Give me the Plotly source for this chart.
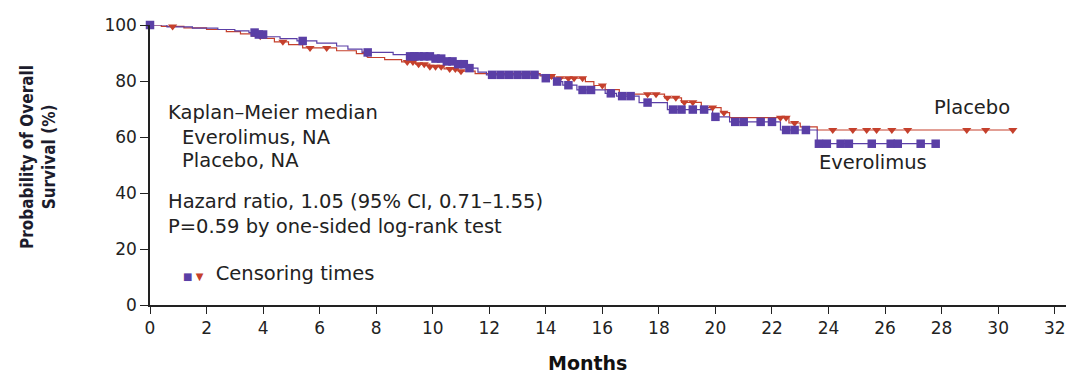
import plotly.graph_objects as go

# Kaplan-Meier step curves (time in months, survival in %)
ev_t = [0, 0.6, 1.5, 2.4, 3.0, 3.5, 3.8, 4.1, 4.6, 5.2, 5.9, 6.6, 7.0, 7.5, 8.6, 9.1, 10.0, 10.4, 10.8, 11.2, 11.6, 11.9,
        13.9, 14.3, 14.6, 15.1, 16.1, 16.5, 17.3, 18.3, 19.9, 20.5, 22.3, 23.6, 27.8]
ev_s = [100, 99.3, 98.9, 98.4, 97.9, 97.3, 96.6, 95.8, 95.1, 94.3, 93.5, 92.5, 91.4, 90.2, 89.4, 88.8, 88.0, 87.0, 86.0, 84.6, 83.2, 82.2,
        81.0, 79.8, 78.5, 76.8, 75.6, 74.6, 72.3, 69.8, 67.2, 65.4, 62.5, 57.6, 57.6]

pl_t = [0, 0.4, 1.2, 2.0, 2.7, 3.2, 3.6, 4.0, 4.4, 4.9, 5.4, 6.6, 7.3, 7.7, 8.3, 8.9, 9.4, 9.9, 10.4, 10.9, 11.5,
        13.8, 14.3, 15.4, 15.7, 16.1, 16.6, 18.2, 18.8, 19.5, 20.2, 20.5, 22.6, 23.0, 23.6, 30.5]
pl_s = [100, 99.5, 99.0, 98.4, 97.6, 96.8, 96.0, 95.2, 94.0, 93.0, 91.8, 90.8, 89.8, 88.4, 87.6, 86.8, 86.0, 85.1, 84.3, 83.5, 82.6,
        81.8, 81.0, 79.8, 78.4, 76.9, 75.3, 74.0, 72.4, 70.5, 68.7, 66.9, 65.0, 63.6, 62.5, 62.5]

# Censoring marks
ev_cens_t = [0.0, 3.7, 3.85, 4.0, 5.4, 7.7, 9.2, 9.35, 9.5, 9.7, 9.9, 10.1, 10.3, 10.5, 10.7, 10.9, 11.1, 11.3,
             12.1, 12.4, 12.7, 13.0, 13.3, 13.6, 14.0, 14.4, 14.8, 15.3, 15.6, 16.3, 16.7, 17.0, 17.6, 18.5, 18.8,
             19.2, 19.6, 20.0, 20.7, 21.0, 21.6, 22.0, 22.5, 22.8, 23.2,
             23.66, 23.94, 24.43, 24.72, 25.53, 26.2, 26.45, 27.26, 27.79]
ev_cens_s = [100, 97.3, 96.6, 96.6, 94.3, 90.2, 88.8, 88.8, 88.8, 88.8, 88.8, 88.0, 88.0, 87.0, 87.0, 86.0, 86.0, 84.6,
             82.2, 82.2, 82.2, 82.2, 82.2, 82.2, 81.0, 79.8, 78.5, 76.8, 76.8, 75.6, 74.6, 74.6, 72.3, 69.8, 69.8,
             69.8, 69.8, 67.2, 65.4, 65.4, 65.4, 65.4, 62.5, 62.5, 62.5,
             57.6, 57.6, 57.6, 57.6, 57.6, 57.6, 57.6, 57.6, 57.6]

pl_cens_t = [0.8, 3.9, 4.7, 5.66, 6.25, 7.67, 9.1, 9.3, 9.5, 9.7, 9.9, 10.1, 10.3, 10.6, 10.8, 11.0,
             13.6, 14.2, 14.5, 14.8, 15.0, 15.3, 16.0, 17.6, 17.9, 18.3, 18.6, 18.9, 19.2, 19.9, 20.3,
             22.3, 22.5, 22.8,
             24.15, 24.86, 25.35, 25.7, 26.24, 26.8, 28.89, 29.56, 30.52]
pl_cens_s = [99.5, 96.0, 94.0, 91.8, 91.8, 89.8, 86.8, 86.8, 86.0, 86.0, 85.1, 85.1, 85.1, 84.3, 84.3, 83.5,
             82.6, 81.8, 81.0, 81.0, 81.0, 81.0, 78.4, 75.3, 75.3, 74.0, 74.0, 72.4, 72.4, 70.5, 68.7,
             66.9, 66.9, 65.0,
             62.5, 62.5, 62.5, 62.5, 62.5, 62.5, 62.5, 62.5, 62.5]

x_ticks = list(range(0, 33, 2))
y_ticks = [0, 20, 40, 60, 80, 100]

PURPLE = "#5a3fa6"
RED = "#c5402c"
FONT = "DejaVu Sans"

fig = go.Figure()
fig.add_trace(go.Scatter(x=pl_t, y=pl_s, mode="lines", line=dict(color=RED, width=1.2, shape="hv"),
                         hoverinfo="skip", cliponaxis=False))
fig.add_trace(go.Scatter(x=ev_t, y=ev_s, mode="lines", line=dict(color=PURPLE, width=1.2, shape="hv"),
                         hoverinfo="skip", cliponaxis=False))
fig.add_trace(go.Scatter(x=pl_cens_t, y=pl_cens_s, mode="markers",
                         marker=dict(symbol="triangle-down", size=8, color=RED, line=dict(width=0)),
                         cliponaxis=False))
fig.add_trace(go.Scatter(x=ev_cens_t, y=ev_cens_s, mode="markers",
                         marker=dict(symbol="square", size=8.5, color=PURPLE, line=dict(width=0)),
                         cliponaxis=False))

txt = dict(family=FONT, size=19.5, color="#222222")
ann = [
    dict(x=0.58, y=68.6, text="Kaplan–Meier median"),
    dict(x=1.05, y=60.0, text="Everolimus, NA"),
    dict(x=1.05, y=51.6, text="Placebo, NA"),
    dict(x=0.58, y=36.8, text="Hazard ratio, 1.05 (95% CI, 0.71–1.55)"),
    dict(x=0.58, y=28.2, text="P=0.59 by one-sided log-rank test"),
    dict(x=1.1, y=11.1, text=f"<span style='color:{PURPLE};font-size:10px'>■</span>"
                             f"<span style='color:{RED};font-size:10px'> ▼</span>  Censoring times"),
    dict(x=27.65, y=70.7, text="Placebo"),
    dict(x=23.6, y=51.0, text="Everolimus"),
]
annotations = [dict(a, xref="x", yref="y", showarrow=False, font=txt, xanchor="left", yanchor="middle")
               for a in ann]
annotations.append(dict(xref="paper", yref="paper", x=-0.123, y=0.53, xanchor="center", yanchor="middle",
                        text="<b>Probability of Overall<br>Survival (%)</b>", textangle=-90, showarrow=False,
                        font=dict(family="DejaVu Sans Condensed, DejaVu Sans", size=17, color="#1c1c2c")))
annotations.append(dict(xref="paper", yref="paper", x=0.478, y=-0.207, xanchor="center", yanchor="middle",
                        text="<b>Months</b>", showarrow=False,
                        font=dict(family=FONT, size=19, color="#111111")))

fig.update_layout(
    width=1078, height=374,
    margin=dict(l=150, r=12, t=25, b=69),
    paper_bgcolor="white", plot_bgcolor="white",
    showlegend=False,
    annotations=annotations,
    xaxis=dict(range=[0, 32.4], tickvals=x_ticks, ticks="outside", ticklen=7, tickwidth=1.3,
               tickcolor="#222", showline=True, linecolor="#222", linewidth=1.5, showgrid=False,
               zeroline=False, tickfont=dict(family=FONT, size=17, color="#222")),
    yaxis=dict(range=[0, 100], tickvals=y_ticks, ticks="outside", ticklen=8, tickwidth=1.3,
               tickcolor="#222", showline=True, linecolor="#222", linewidth=1.5, showgrid=False,
               zeroline=False, tickfont=dict(family=FONT, size=17, color="#222")),
)

fig.write_html("out.html")
